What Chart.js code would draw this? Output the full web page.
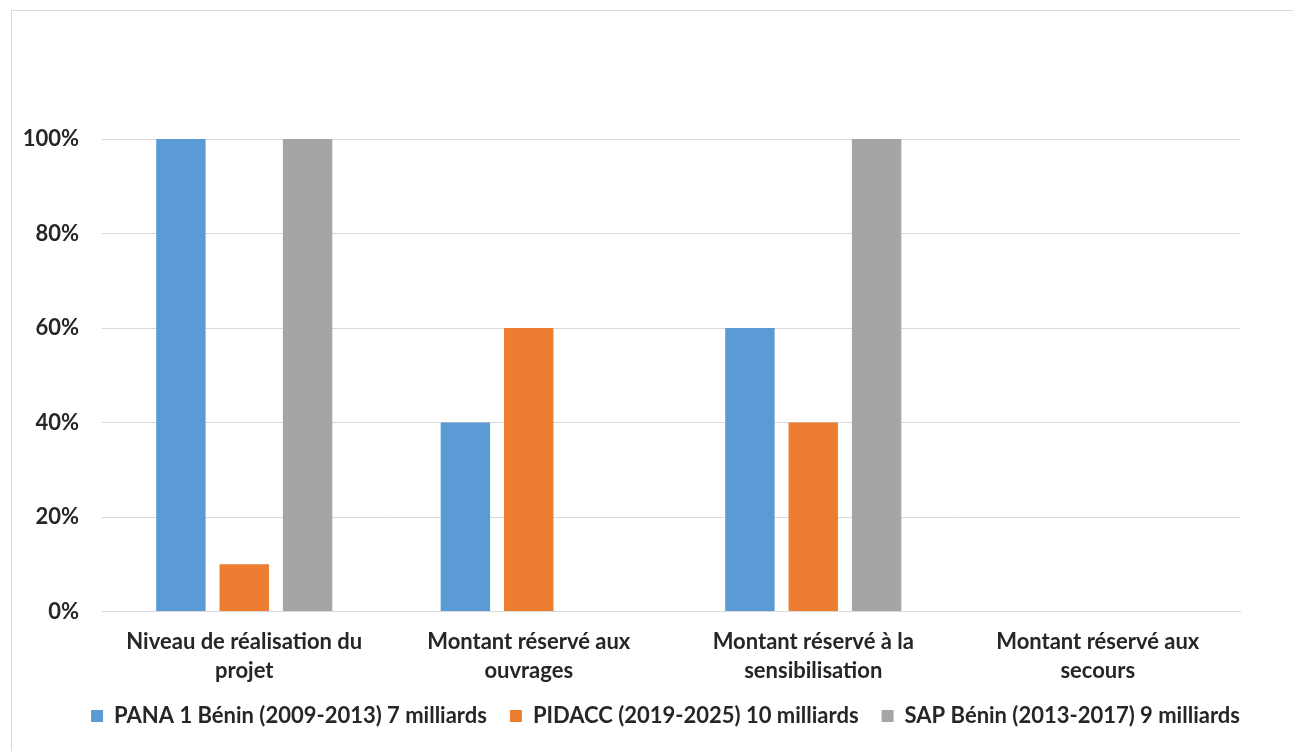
<!DOCTYPE html>
<html>
<head>
<meta charset="utf-8">
<script src="https://cdn.jsdelivr.net/npm/chart.js@4"></script>
<style>
  html, body { margin: 0; padding: 0; background: #ffffff; }
  #wrap { position: relative; width: 1293px; height: 751px; overflow: hidden; }
  #frame { position: absolute; left: 11px; top: 10px; width: 1300px; height: 760px; border-top: 1px solid #d9d9d9; border-left: 1px solid #d9d9d9; box-sizing: border-box; }
  canvas { position: absolute; left: 0; top: 0; }
</style>
</head>
<body>
<div id="wrap">
  <div id="frame"></div>
  <canvas id="c" width="1293" height="751"></canvas>
</div>
<script>
const categories = [
  ["Niveau de réalisation du", "projet"],
  ["Montant réservé aux", "ouvrages"],
  ["Montant réservé à la", "sensibilisation"],
  ["Montant réservé aux", "secours"]
];
const seriesNames = [
  "PANA 1 Bénin (2009-2013) 7 milliards",
  "PIDACC (2019-2025) 10 milliards",
  "SAP Bénin (2013-2017) 9 milliards"
];
const panaValues = [100, 40, 60, 0];
const pidaccValues = [10, 60, 40, 0];
const sapValues = [100, 0, 100, 0];
const seriesColors = ["#5B9BD5", "#ED7D31", "#A5A5A5"];
const yTicks = [0, 20, 40, 60, 80, 100];

const FONT = "Lato, 'Open Sans', 'DejaVu Sans', sans-serif";
const FSIZE = 22;
const TEXT = "#262626";

// widest y tick label, to right-align the mirrored labels left of the plot
const mctx = document.createElement('canvas').getContext('2d');
mctx.font = "bold " + FSIZE + "px " + FONT;
const widestY = Math.max(...yTicks.map(v => mctx.measureText(v + '%').width));

new Chart(document.getElementById('c'), {
  type: 'bar',
  data: {
    labels: categories,
    datasets: [
      { label: seriesNames[0], data: panaValues, backgroundColor: seriesColors[0] },
      { label: seriesNames[1], data: pidaccValues, backgroundColor: seriesColors[1] },
      { label: seriesNames[2], data: sapValues, backgroundColor: seriesColors[2] }
    ]
  },
  options: {
    responsive: false,
    animation: false,
    devicePixelRatio: 1,
    categoryPercentage: 0.668,
    barPercentage: 0.78,
    layout: { padding: { left: 38, right: 0, top: 139, bottom: 14 } },
    plugins: {
      legend: {
        position: 'bottom',
        align: 'center',
        labels: {
          boxWidth: 12, boxHeight: 12, padding: 23,
          color: TEXT,
          font: { family: FONT, size: FSIZE, weight: 'bold' }
        }
      },
      tooltip: { enabled: false }
    },
    scales: {
      x: {
        grid: { display: false, drawTicks: false },
        border: { display: true, color: '#d9d9d9', width: 1 },
        ticks: {
          color: TEXT, padding: 16, maxRotation: 0, autoSkip: false,
          font: { family: FONT, size: FSIZE, weight: 'bold', lineHeight: 29 / FSIZE }
        },
        afterFit: (s) => { s.height = 70.5; }
      },
      y: {
        min: 0, max: 100,
        afterBuildTicks: (s) => { s.ticks = yTicks.map(v => ({ value: v })); },
        grid: { color: '#d9d9d9', lineWidth: 1, drawTicks: false },
        border: { display: false },
        ticks: {
          color: TEXT,
          mirror: true,
          crossAlign: 'far',
          padding: -23 - widestY,
          font: { family: FONT, size: FSIZE, weight: 'bold' },
          callback: (v) => v + '%'
        },
        afterFit: (s) => { s.width = 64; }
      },
      spacer: {
        type: 'linear',
        position: 'right',
        min: 0, max: 100,
        grid: { display: false, drawTicks: false },
        border: { display: false },
        ticks: { display: false },
        afterFit: (s) => { s.width = 53; }
      }
    }
  }
});
</script>
</body>
</html>
